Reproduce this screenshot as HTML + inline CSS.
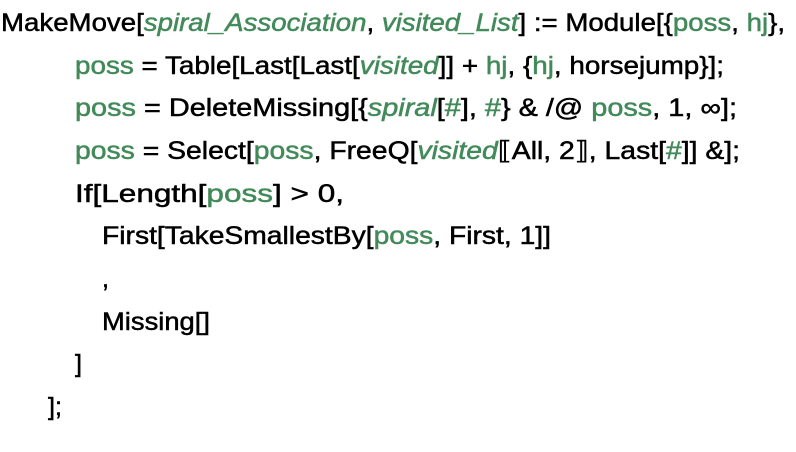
<!DOCTYPE html>
<html><head><meta charset="utf-8"><style>
html,body{margin:0;padding:0;background:#fff;width:796px;height:452px;overflow:hidden}
svg{display:block}
text{font-family:"Liberation Sans",sans-serif;font-size:25px;fill:#000;stroke:#000;stroke-width:0.5px}
.g{fill:#438a5a;stroke:#438a5a}
.i{fill:#438a5a;stroke:#438a5a;font-style:italic}
</style></head><body>
<svg width="796" height="452" viewBox="0 0 796 452">
<text x="1" y="31" textLength="784" lengthAdjust="spacingAndGlyphs">MakeMove[<tspan class="i">spiral_Association</tspan>, <tspan class="i">visited_List</tspan>] := Module[{<tspan class="g">poss</tspan>, <tspan class="g">hj</tspan>},</text>
<text x="75" y="74" textLength="649" lengthAdjust="spacingAndGlyphs"><tspan class="g">poss</tspan> = Table[Last[Last[<tspan class="i">visited</tspan>]] + <tspan class="g">hj</tspan>, {<tspan class="g">hj</tspan>, horsejump}];</text>
<text x="75" y="116" textLength="662" lengthAdjust="spacingAndGlyphs"><tspan class="g">poss</tspan> = DeleteMissing[{<tspan class="i">spiral</tspan>[<tspan class="g">#</tspan>], <tspan class="g">#</tspan>} &amp; /@ <tspan class="g">poss</tspan>, 1, ∞];</text>
<text x="75" y="159" textLength="665" lengthAdjust="spacingAndGlyphs"><tspan class="g">poss</tspan> = Select[<tspan class="g">poss</tspan>, FreeQ[<tspan class="i">visited</tspan>⟦All, 2⟧, Last[<tspan class="g">#</tspan>]] &amp;];</text>
<text x="75" y="202" textLength="269" lengthAdjust="spacingAndGlyphs">If[Length[<tspan class="g">poss</tspan>] &gt; 0,</text>
<text x="102" y="244" textLength="449" lengthAdjust="spacingAndGlyphs">First[TakeSmallestBy[<tspan class="g">poss</tspan>, First, 1]]</text>
<text x="102" y="287">,</text>
<text x="102" y="330" textLength="108" lengthAdjust="spacingAndGlyphs">Missing[]</text>
<text x="75" y="372">]</text>
<text x="48" y="415">];</text>
</svg>
</body></html>
